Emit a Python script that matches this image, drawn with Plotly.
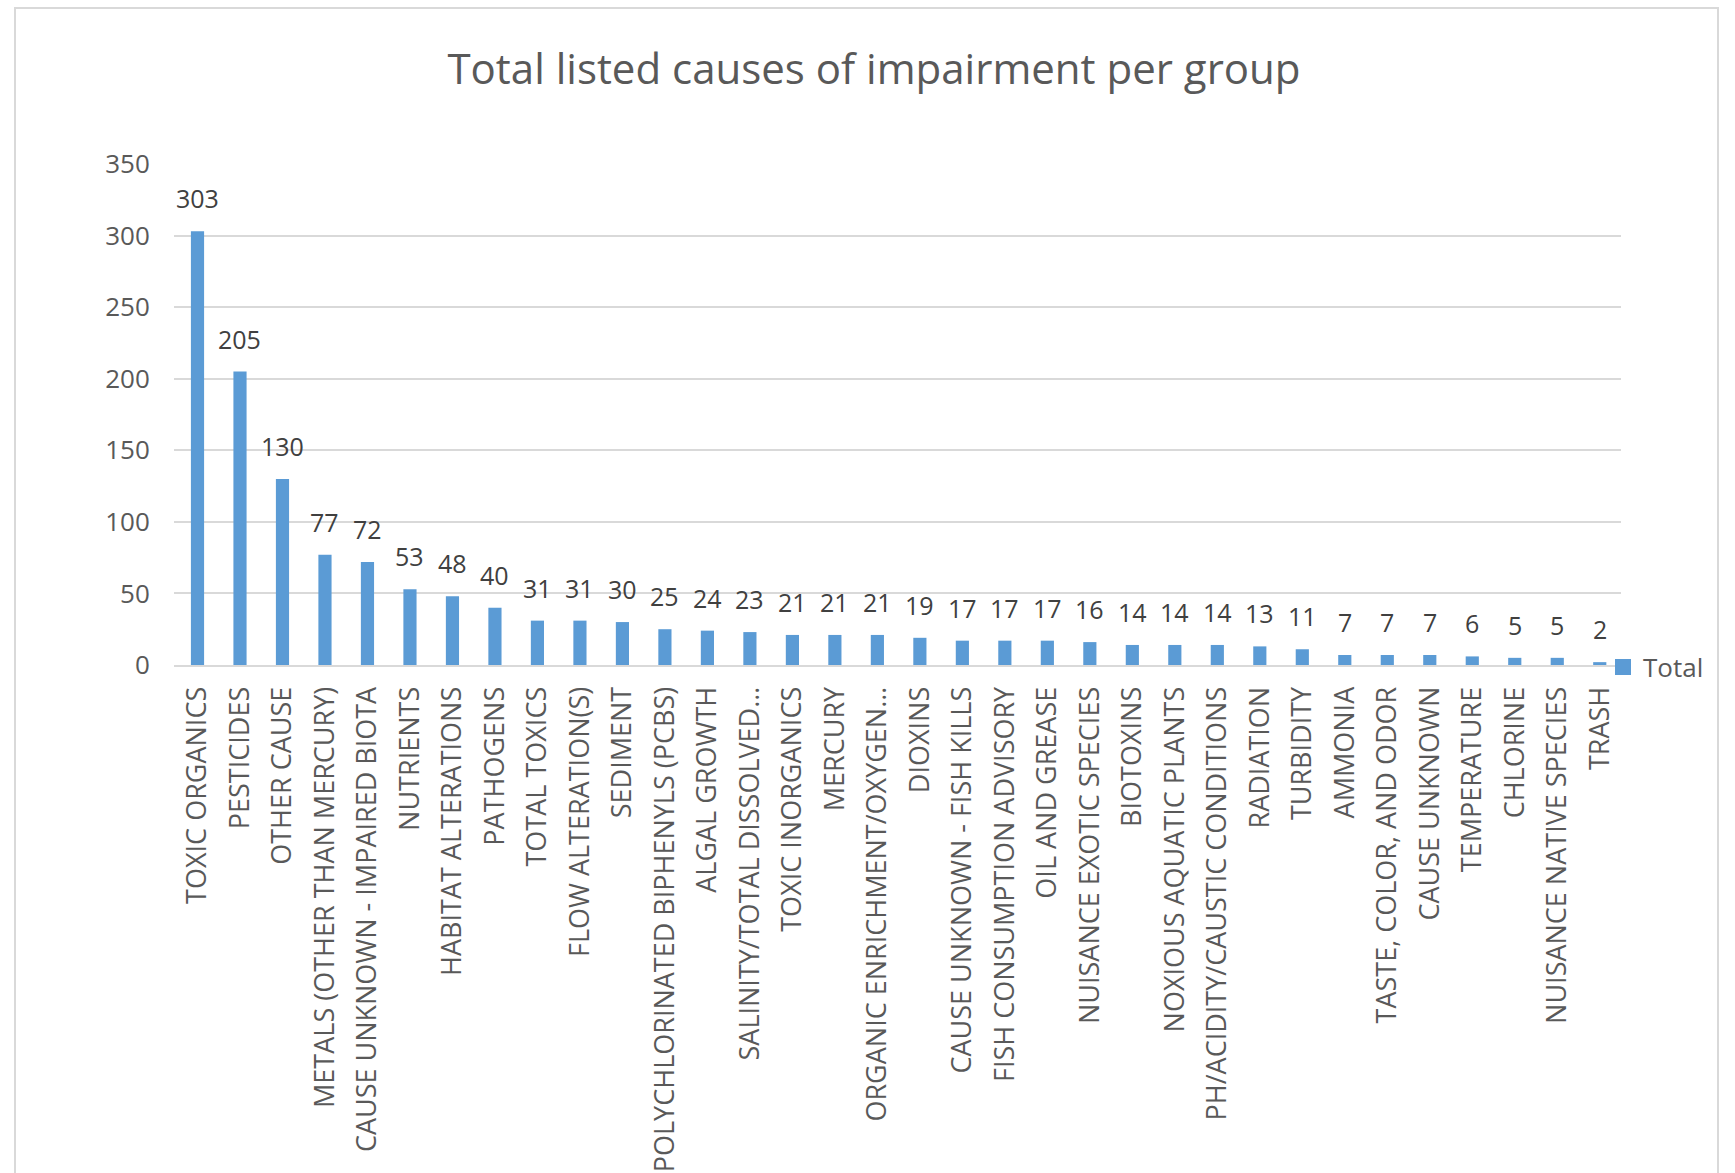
import plotly.graph_objects as go

categories = [
    "TOXIC ORGANICS", "PESTICIDES", "OTHER CAUSE", "METALS (OTHER THAN MERCURY)",
    "CAUSE UNKNOWN - IMPAIRED BIOTA", "NUTRIENTS", "HABITAT ALTERATIONS", "PATHOGENS",
    "TOTAL TOXICS", "FLOW ALTERATION(S)", "SEDIMENT", "POLYCHLORINATED BIPHENYLS (PCBS)",
    "ALGAL GROWTH", "SALINITY/TOTAL DISSOLVED…", "TOXIC INORGANICS", "MERCURY",
    "ORGANIC ENRICHMENT/OXYGEN…", "DIOXINS", "CAUSE UNKNOWN - FISH KILLS",
    "FISH CONSUMPTION ADVISORY", "OIL AND GREASE", "NUISANCE EXOTIC SPECIES", "BIOTOXINS",
    "NOXIOUS AQUATIC PLANTS", "PH/ACIDITY/CAUSTIC CONDITIONS", "RADIATION", "TURBIDITY",
    "AMMONIA", "TASTE, COLOR, AND ODOR", "CAUSE UNKNOWN", "TEMPERATURE", "CHLORINE",
    "NUISANCE NATIVE SPECIES", "TRASH",
]
totals = [303, 205, 130, 77, 72, 53, 48, 40, 31, 31, 30, 25, 24, 23, 21, 21, 21, 19,
          17, 17, 17, 16, 14, 14, 14, 13, 11, 7, 7, 7, 6, 5, 5, 2]
series_name = "Total"
title_text = "Total listed causes of impairment per group"
y_ticks = [0, 50, 100, 150, 200, 250, 300, 350]

BAR = "#5B9BD5"
TXT = "#595959"
GRID = "#D9D9D9"
FONT = "Open Sans"

fig = go.Figure()
fig.add_trace(go.Bar(
    x=categories, y=totals, name=series_name,
    marker=dict(color=BAR, line=dict(width=0)),
    showlegend=False,
))
# legend entry with a larger square key (Excel style)
fig.add_trace(go.Scatter(
    x=[None], y=[None], mode="markers", name=series_name,
    marker=dict(symbol="square", size=16, color=BAR),
    showlegend=True,
))

for c, v in zip(categories, totals):
    fig.add_annotation(
        x=c, y=v, text=str(v), showarrow=False,
        yanchor="middle", yshift=33,
        font=dict(family=FONT, size=25, color="#404040"),
    )

W, H = 1735, 1173
ml, mr, mt, mb = 174, 114, 164, 508
pw, ph = W - ml - mr, H - mt - mb

# outer chart border
fig.add_shape(
    type="rect", xref="paper", yref="paper",
    x0=(15 - ml) / pw, x1=(1718 - ml) / pw,
    y0=(H - mb - 1200) / ph, y1=(H - mb - 8) / ph,
    line=dict(color=GRID, width=2), fillcolor="rgba(0,0,0,0)", layer="below",
)

fig.update_layout(
    width=W, height=H,
    margin=dict(l=ml, r=mr, t=mt, b=mb, pad=0, autoexpand=False),
    paper_bgcolor="white", plot_bgcolor="white",
    bargap=0.69,
    title=dict(text=title_text, x=(874) / W, xanchor="center", y=1 - 69 / H, yanchor="middle",
               font=dict(family=FONT, size=42, color=TXT)),
    font=dict(family=FONT, color=TXT),
    legend=dict(x=(1603 - ml) / pw, xanchor="left", y=-0.004, yanchor="middle",
                bgcolor="rgba(0,0,0,0)", itemwidth=30,
                font=dict(family=FONT, size=26, color=TXT)),
    xaxis=dict(
        type="category", tickangle=-90, showgrid=False, automargin=False,
        showline=True, linecolor=GRID, linewidth=2,
        ticks="outside", ticklen=9, tickcolor="rgba(0,0,0,0)",
        tickfont=dict(family=FONT, size=27, color=TXT),
    ),
    yaxis=dict(
        range=[0, 350], tickvals=y_ticks, showgrid=True, gridcolor=GRID, gridwidth=2,
        zeroline=False, showline=False, automargin=False,
        ticks="outside", ticklen=18, tickcolor="rgba(0,0,0,0)",
        tickfont=dict(family=FONT, size=26, color=TXT),
    ),
)

fig.write_html("out.html")
